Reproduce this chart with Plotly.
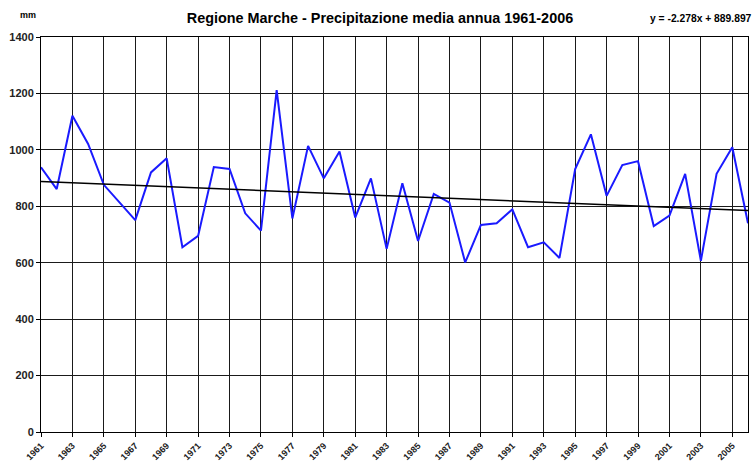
import plotly.graph_objects as go

years = list(range(1961, 2007))
precip = [938, 861, 1121, 1021, 876, 815, 751, 920, 970, 655,
          695, 939, 932, 775, 714, 1212, 757, 1014, 899, 994,
          760, 899, 649, 882, 677, 844, 813, 601, 734, 740,
          789, 655, 672, 617, 932, 1055, 837, 946, 960, 730,
          767, 915, 607, 915, 1009, 740]
trend_slope = -2.278
trend_intercept = 889.897
y_ticks = [0, 200, 400, 600, 800, 1000, 1200, 1400]
x_ticks = list(range(1961, 2006, 2))

trend = [trend_slope * (i + 1) + trend_intercept for i in range(len(years))]

FONT = "Liberation Sans, Arial, sans-serif"
W, H = 754, 466
ML, MR, MT, MB = 41, 6, 37, 34
PW, PH = W - ML - MR, H - MT - MB


def px_x(px):
    return (px - ML) / PW


def px_y(py):
    return (H - MB - py) / PH


fig = go.Figure()
fig.add_trace(go.Scatter(x=years, y=precip, mode="lines",
                         line=dict(color="#1a1aff", width=2), showlegend=False))
fig.add_trace(go.Scatter(x=years, y=trend, mode="lines",
                         line=dict(color="black", width=1.5), showlegend=False))

fig.update_layout(
    width=W, height=H,
    margin=dict(l=ML, r=MR, t=MT, b=MB, autoexpand=False),
    paper_bgcolor="white", plot_bgcolor="white",
    font=dict(family=FONT, color="black"),
    title=dict(text="<b>Regione Marche - Precipitazione media annua 1961-2006</b>",
               x=380 / W, xanchor="center", y=1 - 18 / H, yanchor="middle",
               font=dict(size=14.4, family=FONT, color="black")),
    xaxis=dict(range=[1961, 2006], tickmode="array", tickvals=x_ticks,
               ticktext=["<b>%d</b>" % v for v in x_ticks], tickangle=-45,
               showgrid=True, gridcolor="#1a1a1a", gridwidth=1,
               showline=True, linecolor="black", linewidth=1, mirror=True,
               ticks="outside", ticklen=4, tickcolor="black",
               tickfont=dict(size=9, family=FONT, color="#222222"),
               zeroline=False, fixedrange=True, automargin=False),
    yaxis=dict(range=[0, 1400], tickmode="array", tickvals=y_ticks,
               ticktext=["<b>%d</b>" % v for v in y_ticks],
               showgrid=True, gridcolor="#1a1a1a", gridwidth=1,
               showline=True, linecolor="black", linewidth=1, mirror=True,
               ticks="outside", ticklen=4, tickcolor="black",
               tickfont=dict(size=11, family=FONT, color="#222222"),
               zeroline=False, fixedrange=True, automargin=False),
    annotations=[
        dict(text="<b>mm</b>", x=px_x(28), y=px_y(15), xref="paper", yref="paper",
             xanchor="center", yanchor="middle", showarrow=False,
             font=dict(size=9, family=FONT, color="black")),
        dict(text="<b>y = -2.278x + 889.897</b>", x=px_x(754), y=px_y(19),
             xref="paper", yref="paper", xanchor="right", yanchor="middle",
             showarrow=False, font=dict(size=10.3, family=FONT, color="black")),
    ],
)

fig.write_html("out.html", config={"displayModeBar": False},
               post_script="document.body.style.margin='0px';"
                           "document.body.style.overflow='hidden';")
